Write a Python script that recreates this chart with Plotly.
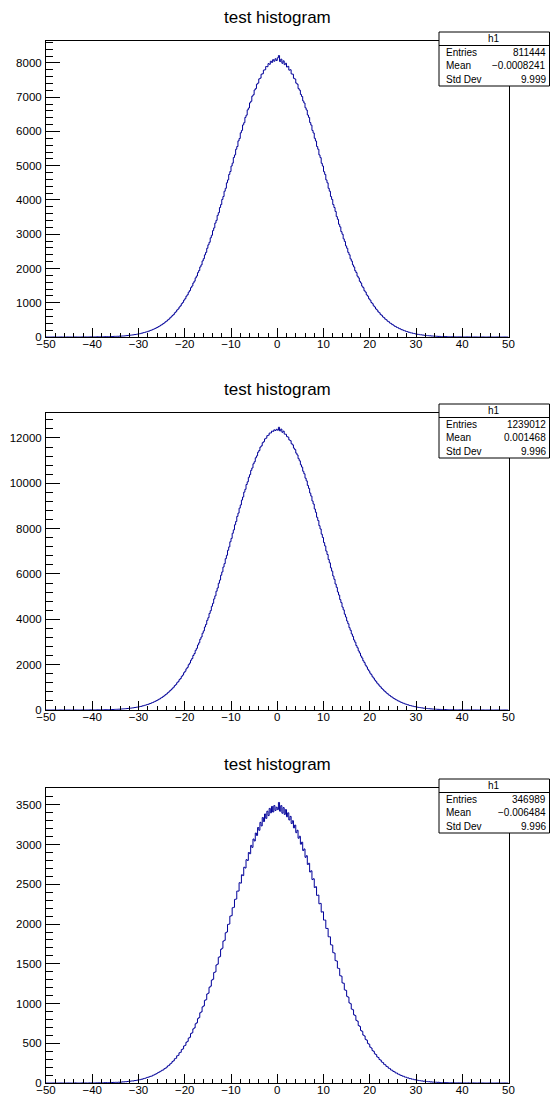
import plotly.graph_objects as go

# ---------------- data ----------------
x_min, x_max = -50.0, 50.0
bin_width = 0.25

# bin counts, left half (x from -50 up to 0) and right half (0 up to 50)
h1_left = [0,0,0,0,0,0,0,0,0,0, 0,0,0,1,0,0,0,0,1,0, 0,1,0,0,1,0,1,0,1,1,
 1,2,1,1,3,2,2,1,3,4,
 3,4,2,5,6,4,5,7,5,8,
 7,9,8,12,10,13,15,12,16,19,
 17,21,19,25,23,27,30,29,35,40,
 42,47,49,56,58,63,70,72,79,86,
 95,98,110,115,128,133,147,152,168,176,
 193,202,221,233,249,268,281,305,322,347,
 362,392,412,444,465,499,522,561,590,629,
 655,706,735,789,818,875,910,972,1010,1075,
 1118,1190,1232,1309,1355,1440,1488,1575,1630,1725,
 1780,1879,1940,2045,2105,2220,2286,2398,2470,2590,
 2690,2765,2895,2970,3105,3185,3325,3405,3550,3630,
 3780,3865,4015,4100,4255,4340,4500,4585,4745,4830,
 4990,5075,5240,5315,5480,5560,5725,5795,5960,6030,
 6190,6255,6410,6475,6630,6685,6835,6880,7030,7070,
 7210,7250,7380,7410,7535,7555,7670,7685,7790,7800,
 7895,7890,7980,7960,8050,8015,8095,8050,8120,8070]
h1_right = [8150,8215,8040,8110,7990,8060,7950,7990,7880,7900,
 7790,7800,7680,7670,7550,7530,7410,7380,7250,7205,
 7080,7020,6890,6830,6690,6625,6480,6410,6260,6185,
 6030,5955,5800,5720,5560,5480,5315,5235,5070,4990,
 4825,4745,4585,4500,4340,4255,4100,4015,3865,3780,
 3665,3515,3435,3290,3215,3075,3000,2865,2790,2660,
 2590,2470,2400,2280,2215,2105,2045,1935,1880,1775,
 1725,1625,1578,1485,1440,1350,1310,1228,1192,1115,
 1076,1008,972,908,876,818,788,733,706,655,
 632,585,564,521,503,462,447,409,396,361,
 350,318,308,280,272,245,238,214,209,187,
 182,162,158,141,137,121,120,105,103,90,
 89,77,76,66,66,57,56,48,47,41,
 40,35,35,29,29,25,25,21,20,17,
 18,15,15,12,13,10,11,8,9,7,
 7,6,7,4,5,4,5,3,3,2,
 3,2,1,3,2,1,2,1,0,1,
 1,0,1,0,0,1,0,0,1,0, 0,0,1,0,0,0,0,0,0,0, 0,0,0,0,0,0,0,0,0,0]

h2_left = [0,0,0,0,0,0,0,0,0,0, 0,0,1,0,0,0,0,1,0,0, 1,0,0,1,0,1,0,1,1,0,
 1,2,3,1,2,4,2,3,5,4,
 4,6,4,6,7,6,9,8,11,9,
 12,12,14,16,15,19,20,23,23,27,
 29,30,35,36,41,44,48,52,57,61,
 66,70,78,82,91,96,107,113,124,131,
 140,155,162,180,189,208,219,240,251,275,
 288,316,331,360,380,410,432,468,490,530,
 554,600,630,678,711,765,801,858,900,960,
 1005,1078,1120,1203,1250,1338,1390,1485,1540,1645,
 1708,1815,1880,1998,2070,2195,2272,2405,2490,2630,
 2720,2868,2962,3120,3220,3385,3490,3662,3775,3955,
 4070,4260,4380,4575,4705,4900,5035,5240,5380,5590,
 5730,5945,6090,6305,6455,6675,6825,7045,7195,7420,
 7570,7795,7945,8170,8315,8540,8685,8905,9045,9260,
 9395,9610,9735,9945,10065,10265,10380,10570,10675,10860,
 10950,11125,11210,11370,11445,11595,11650,11790,11835,11960,
 11990,12100,12120,12215,12220,12300,12290,12355,12330,12380]
h2_right = [12340,12470,12310,12390,12250,12300,12170,12160,12060,12035,
 11915,11880,11745,11695,11550,11485,11330,11250,11085,10990,
 10815,10715,10530,10420,10225,10105,9905,9775,9570,9435,
 9220,9085,8865,8720,8500,8355,8130,7985,7755,7610,
 7385,7235,7010,6860,6640,6490,6270,6125,5910,5765,
 5555,5410,5205,5070,4870,4735,4540,4415,4225,4100,
 3925,3805,3632,3518,3355,3248,3090,2990,2840,2745,
 2605,2512,2380,2296,2172,2090,1976,1901,1794,1723,
 1624,1558,1465,1406,1320,1265,1185,1136,1062,1018,
 950,908,848,809,754,719,668,639,591,565,
 522,498,459,439,404,386,353,338,309,296,
 269,256,234,224,202,195,175,169,150,145,
 130,124,112,107,96,92,81,79,69,67,
 59,57,50,48,42,41,36,35,30,29,
 25,25,21,21,17,18,14,15,12,12,
 10,9,9,7,8,6,5,6,4,5,
 4,3,4,2,3,2,3,1,2,1,
 1,1,0,1,0,1,0,0,1,0, 0,1,0,0,0,0,0,0,1,0, 0,0,0,0,0,0,0,0,0,0]

h3_left = [0,0,0,0,0,0,0,0,0,0, 0,0,0,0,0,0,0,0,0,0, 0,0,0,0,0,1,0,0,0,0,
 0,1,0,0,1,0,0,1,0,1,
 1,0,1,2,1,2,3,2,3,2,
 4,3,5,3,6,5,7,6,8,7,
 9,7,10,9,12,11,15,13,17,16,
 19,21,21,24,26,25,30,31,33,38,
 41,42,47,49,55,58,63,70,73,78,
 84,86,97,101,110,116,126,133,142,150,
 160,165,180,186,199,215,222,240,250,271,
 280,305,311,342,348,380,386,420,429,466,
 474,512,524,565,575,622,632,681,694,745,
 757,810,823,884,895,958,970,1040,1048,1120,
 1130,1205,1218,1295,1305,1390,1398,1485,1495,1582,
 1590,1682,1695,1785,1795,1890,1900,1995,2000,2100,
 2105,2205,2210,2310,2315,2415,2415,2520,2515,2620,
 2610,2715,2705,2810,2800,2900,2885,2990,2965,3070,
 3045,3145,3115,3215,3180,3280,3235,3340,3290,3385,
 3330,3420,3365,3455,3400,3480,3410,3490,3430,3470]
h3_right = [3440,3530,3420,3490,3395,3465,3380,3440,3350,3400,
 3310,3355,3265,3300,3210,3245,3150,3180,3080,3105,
 3005,3030,2925,2945,2840,2860,2750,2765,2655,2670,
 2560,2570,2460,2470,2360,2365,2255,2260,2150,2155,
 2050,2050,1945,1945,1840,1840,1740,1735,1640,1635,
 1540,1535,1445,1440,1350,1345,1260,1255,1172,1165,
 1090,1080,1008,998,930,922,858,848,788,778,
 723,712,661,650,603,592,549,539,498,488,
 451,440,408,398,367,358,329,321,295,288,
 264,257,235,229,209,204,186,181,164,160,
 145,141,127,125,112,109,98,95,86,84,
 74,73,64,64,55,56,48,48,42,41,
 36,35,31,30,26,26,22,23,19,19,
 16,17,13,14,11,12,9,10,8,9,
 7,6,6,5,5,4,4,5,3,3,
 3,2,3,2,1,2,2,1,1,1,
 1,0,1,0,0,1,0,0,0,1, 0,0,0,0,1,0,0,0,0,0, 0,0,0,0,0,0,0,0,0,0, 0,0,0,0,0,0,0,0,0,0]

titles = ["test histogram", "test histogram", "test histogram"]
hist_names = ["h1", "h1", "h1"]
entries = [811444, 1239012, 346989]
means = [-0.0008241, 0.001468, -0.006484]
std_devs = [9.999, 9.996, 9.996]
y_max = [8640, 13100, 3712]
y_dtick = [1000, 2000, 500]
y_minor = [200, 400, 100]

# ---------------- layout geometry (pixels) ----------------
W, H = 550, 1097
frame_left, frame_right = 46, 508.5
frame_tops = [41, 413, 788]
frame_bottoms = [337, 710, 1083]
FONT = "Liberation Sans, Arial, Helvetica, sans-serif"
LINE_COLOR = "#000099"

def px_x(x):
    return x / W

def px_y(y):
    return 1 - y / H

def fmt(v):
    s = f"{v:.4g}"
    return s.replace("-", "\u2212")

fig = go.Figure()
shapes = []
annotations = []

halves = [(h1_left, h1_right), (h2_left, h2_right), (h3_left, h3_right)]

for i, (left, right) in enumerate(halves):
    xs, ys = [], []
    start = -bin_width * len(left)
    for j, c in enumerate(left):
        xs.append(start + j * bin_width)
        ys.append(c)
    for j, c in enumerate(right):
        xs.append(j * bin_width)
        ys.append(c)
    xs.append(bin_width * len(right))
    ys.append(right[-1])

    xa = "x" if i == 0 else f"x{i+1}"
    ya = "y" if i == 0 else f"y{i+1}"
    fig.add_trace(go.Scatter(
        x=xs, y=ys, mode="lines", line=dict(color=LINE_COLOR, width=1, shape="hv"),
        xaxis=xa, yaxis=ya, showlegend=False, hoverinfo="skip"))

    xkey = "xaxis" if i == 0 else f"xaxis{i+1}"
    ykey = "yaxis" if i == 0 else f"yaxis{i+1}"
    fig.update_layout(**{
        xkey: dict(
            domain=[px_x(frame_left), px_x(frame_right)],
            anchor=ya, range=[x_min, x_max], dtick=10, tick0=0,
            ticks="inside", ticklen=9, tickwidth=1, tickcolor="black",
            minor=dict(dtick=2, ticks="inside", ticklen=4.5, tickwidth=1, tickcolor="black"),
            showline=True, linecolor="black", linewidth=1, mirror=True,
            showgrid=False, zeroline=False, automargin=False,
            tickfont=dict(family=FONT, size=11.5, color="black"),
            ticklabelstandoff=-4,
            fixedrange=True,
        ),
        ykey: dict(
            domain=[px_y(frame_bottoms[i]), px_y(frame_tops[i])],
            anchor=xa, range=[0, y_max[i]], dtick=y_dtick[i], tick0=0,
            ticks="inside", ticklen=14, tickwidth=1, tickcolor="black",
            minor=dict(dtick=y_minor[i], ticks="inside", ticklen=7, tickwidth=1, tickcolor="black"),
            showline=True, linecolor="black", linewidth=1, mirror=True,
            showgrid=False, zeroline=False, automargin=False,
            exponentformat="none", separatethousands=False, tickformat="d",
            tickfont=dict(family=FONT, size=11.5, color="black"),
            ticklabelstandoff=1,
            fixedrange=True,
        ),
    })

    annotations.append(dict(
        text=titles[i], x=px_x(277.5), y=px_y(frame_tops[i] - 24),
        xref="paper", yref="paper", xanchor="center", yanchor="middle",
        showarrow=False, font=dict(family=FONT, size=17, color="black")))

    top = frame_tops[i] - 9
    row = 13.5
    bx0, bx1 = 439, 549.5
    shapes.append(dict(type="rect", xref="paper", yref="paper",
                       x0=px_x(bx0), x1=px_x(bx1), y0=px_y(top + 4 * row), y1=px_y(top),
                       line=dict(color="black", width=1), fillcolor="white", layer="above"))
    shapes.append(dict(type="line", xref="paper", yref="paper",
                       x0=px_x(bx0), x1=px_x(bx1), y0=px_y(top + row), y1=px_y(top + row),
                       line=dict(color="black", width=1), layer="above"))
    annotations.append(dict(
        text=hist_names[i], x=px_x((bx0 + bx1) / 2), y=px_y(top + row / 2),
        xref="paper", yref="paper", xanchor="center", yanchor="middle",
        showarrow=False, font=dict(family=FONT, size=10, color="black")))
    labels = ["Entries", "Mean", "Std Dev"]
    values = [str(entries[i]), fmt(means[i]), fmt(std_devs[i])]
    for r, (lab, val) in enumerate(zip(labels, values)):
        yc = px_y(top + row * (r + 1.5))
        annotations.append(dict(
            text=lab, x=px_x(444), y=yc, xref="paper", yref="paper",
            xanchor="left", yanchor="middle", showarrow=False,
            font=dict(family=FONT, size=10, color="black")))
        annotations.append(dict(
            text=val, x=px_x(548), y=yc, xref="paper", yref="paper",
            xanchor="right", yanchor="middle", showarrow=False,
            font=dict(family=FONT, size=10, color="black")))

fig.update_layout(
    width=W, height=H, margin=dict(l=0, r=0, t=0, b=0, pad=0),
    paper_bgcolor="white", plot_bgcolor="white",
    shapes=shapes, annotations=annotations, showlegend=False,
)

fig.write_html(
    "out.html",
    config={"displayModeBar": False, "staticPlot": True},
    post_script="document.body.style.margin='0';document.body.style.overflow='hidden';",
)
